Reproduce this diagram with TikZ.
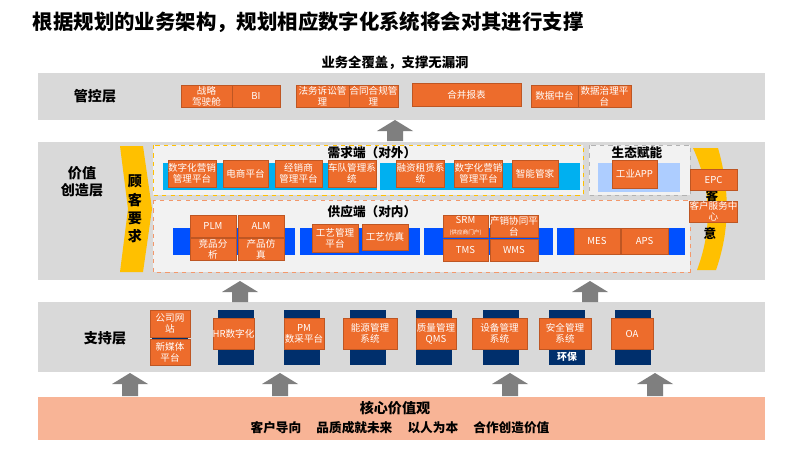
\documentclass[tikz,border=0pt]{standalone}
\usepackage{fontspec}
\setmainfont{Noto Sans CJK SC}
\usetikzlibrary{positioning}
\definecolor{bandgray}{RGB}{217,217,217}
\definecolor{panel}{RGB}{242,242,242}
\definecolor{boxorange}{RGB}{237,108,44}
\definecolor{cyanbar}{RGB}{0,176,240}
\definecolor{bluebar}{RGB}{0,80,255}
\definecolor{navy}{RGB}{0,47,108}
\definecolor{lightblue}{RGB}{173,205,255}
\definecolor{gold}{RGB}{255,192,0}
\definecolor{peach}{RGB}{248,180,150}
\definecolor{arrgray}{RGB}{127,127,127}
\tikzset{
  obox/.style={fill=boxorange,draw=boxorange!80!black,line width=0.2pt,text=white,inner sep=0pt,align=center,font=\fontsize{6.8}{7.8}\selectfont},
  band/.style={fill=bandgray,draw=none},
  lab/.style={font=\fontsize{9}{11}\selectfont\bfseries,align=center},
  upa/.style={fill=arrgray,draw=none}
}
% box from corner (x1,y1) to (x2,y2) in pixels
\newcommand\obox[6]{\node[obox,minimum width={(#4-#2)*0.025cm},minimum height={(#5-#3)*0.025cm}] (#1) at ({(#2+#4)/2},{(#3+#5)/2}) {#6};}
% block arrow up: centre x, bottom y, top y
\newcommand\uparr[3]{\fill[upa] ({#1-8},#2) -- ({#1-8},{#3+11}) -- ({#1-18},{#3+11}) -- (#1,#3) -- ({#1+18},{#3+11}) -- ({#1+8},{#3+11}) -- ({#1+8},#2) -- cycle;}
\begin{document}
\begin{tikzpicture}[x=0.025cm,y=-0.025cm]
    \useasboundingbox[fill=white] (0,0) rectangle (800,450);
    % title
    \node[anchor=west,font=\fontsize{14.5}{16}\selectfont\bfseries] (title) at (28,22) {根据规划的业务架构，规划相应数字化系统将会对其进行支撑};
    \node[lab,font=\fontsize{9.5}{11}\selectfont\bfseries] (cover) at (395,63) {业务全覆盖，支撑无漏洞};
    % bands
    \fill[band] (38,73) rectangle (765,120);
    \fill[band] (38,142) rectangle (765,280);
    \fill[band] (38,302) rectangle (765,372);
    \fill[peach] (38,397) rectangle (765,440);
    \node[lab,font=\fontsize{10}{12}\selectfont\bfseries] (ctrl) at (95,96) {管控层};
    \node[lab,font=\fontsize{10}{12}\selectfont\bfseries] (value) at (82,182) {价值\\创造层};
    \node[lab,font=\fontsize{10}{12}\selectfont\bfseries] (supp) at (105,338) {支持层};
    % control layer
    \obox{zl}{181}{85}{232}{107}{战略\\驾驶舱}
    \obox{bi}{232}{85}{280}{107}{BI}
    \obox{fw}{296}{85}{349}{107}{法务诉讼管\\理}
    \obox{ht}{349}{85}{398}{107}{合同合规管\\理}
    \obox{hb}{412}{83}{521}{106}{合并报表}
    \obox{sj}{531}{85}{578}{107}{数据中台}
    \obox{zs}{578}{85}{631}{107}{数据治理平\\台}
    % arrows
    \uparr{395}{141}{120}
    \uparr{240}{302}{281}
    \uparr{590}{302}{281}
    \foreach \x in {130,280,510,655}{\uparr{\x}{396}{373}}
    % customer requirement / satisfaction
    \fill[gold] (120,146) -- (143,146) -- (152,209) -- (143,272) -- (120,272) -- (128,209) -- cycle;
    \node[lab,font=\fontsize{10}{13}\selectfont\bfseries] (gk) at (135,209) {顾\\客\\要\\求};
    \fill[gold] (693,148) .. controls (712,190) and (712,230) .. (697,270) -- (716,270) .. controls (730,230) and (730,190) .. (718,148) -- cycle;
    \node[lab] (ke) at (712,196) {客};
    \node[lab] (yi) at (710,234) {意};
    % demand side
    \draw[dashed,gold,fill=panel] (153,145) rectangle (583,195);
    \node[lab] (xq) at (372,153) {需求端（对外）};
    \fill[cyanbar] (163,163) rectangle (377,190);
    \fill[cyanbar] (380,163) rectangle (580,190);
    \obox{d1}{168}{160}{216}{187}{数字化营销\\管理平台}
    \obox{d2}{223}{160}{268}{187}{电商平台}
    \obox{d3}{275}{160}{322}{187}{经销商\\管理平台}
    \obox{d4}{328}{160}{376}{187}{车队管理系\\统}
    \obox{d5}{397}{160}{444}{187}{融资租赁系\\统}
    \obox{d6}{455}{160}{502}{187}{数字化营销\\管理平台}
    \obox{d7}{512}{160}{558}{187}{智能管家}
    % ecosystem
    \draw[dashed,gray!60,fill=panel] (589,145) rectangle (690,195);
    \node[lab] (st) at (637,153) {生态赋能};
    \fill[lightblue] (598,163) rectangle (680,192);
    \obox{app}{612}{160}{657}{188}{工业APP}
    % supply side
    \draw[dashed,boxorange!70,fill=panel] (153,200) rectangle (690,272);
    \node[lab] (gy) at (372,212) {供应端（对内）};
    \fill[bluebar] (173,228) rectangle (295,255);
    \fill[bluebar] (300,228) rectangle (420,255);
    \fill[bluebar] (424,228) rectangle (553,255);
    \fill[bluebar] (557,228) rectangle (685,255);
    \obox{plm}{190}{215}{236}{237}{PLM}
    \obox{alm}{238}{215}{284}{237}{ALM}
    \obox{jp}{190}{238}{236}{260}{竞品分\\析}
    \obox{cp}{238}{238}{284}{260}{产品仿\\真}
    \obox{gyp}{312}{224}{358}{252}{工艺管理\\平台}
    \obox{gyf}{362}{224}{408}{250}{工艺仿真}
    \obox{srm}{443}{215}{488}{237}{SRM\\{\fontsize{4}{5}\selectfont (供应商门户)}}
    \obox{cx}{490}{215}{538}{237}{产销协同平\\台}
    \obox{tms}{443}{239}{488}{261}{TMS}
    \obox{wms}{490}{239}{538}{261}{WMS}
    \obox{mes}{574}{228}{620}{254}{MES}
    \obox{aps}{621}{228}{668}{254}{APS}
    \obox{epc}{690}{169}{737}{190}{EPC}
    \obox{kf}{690}{201}{737}{222}{客户服务中\\心}
    % support layer
    \foreach \x in {218,284,350,416,483,549,615}{\fill[navy] (\x,310) rectangle ({\x+36},365);}
    \fill[navy] (152,335) rectangle (188,340);
    \node[text=white,font=\fontsize{7}{8}\selectfont\bfseries] (hb2) at (567,357) {环保};
    \obox{gw}{150}{310}{190}{337}{公司网\\站}
    \obox{xmt}{150}{339}{190}{365}{新媒体\\平台}
    \obox{hr}{213}{318}{254}{349}{HR数字化}
    \obox{pm}{284}{318}{324}{349}{PM\\数采平台}
    \obox{ny}{343}{318}{397}{349}{能源管理\\系统}
    \obox{qms}{416}{318}{456}{349}{质量管理\\QMS}
    \obox{sb}{472}{318}{527}{349}{设备管理\\系统}
    \obox{aq}{539}{318}{591}{349}{安全管理\\系统}
    \obox{oa}{611}{318}{653}{349}{OA}
    % core values
    \node[lab,font=\fontsize{10}{12}\selectfont\bfseries] (hx) at (395,408) {核心价值观};
    \node[lab] (jz) at (400,428) {客户导向\hspace{1.2em}品质成就未来\hspace{1.2em}以人为本\hspace{1.2em}合作创造价值};
\end{tikzpicture}
\end{document}
